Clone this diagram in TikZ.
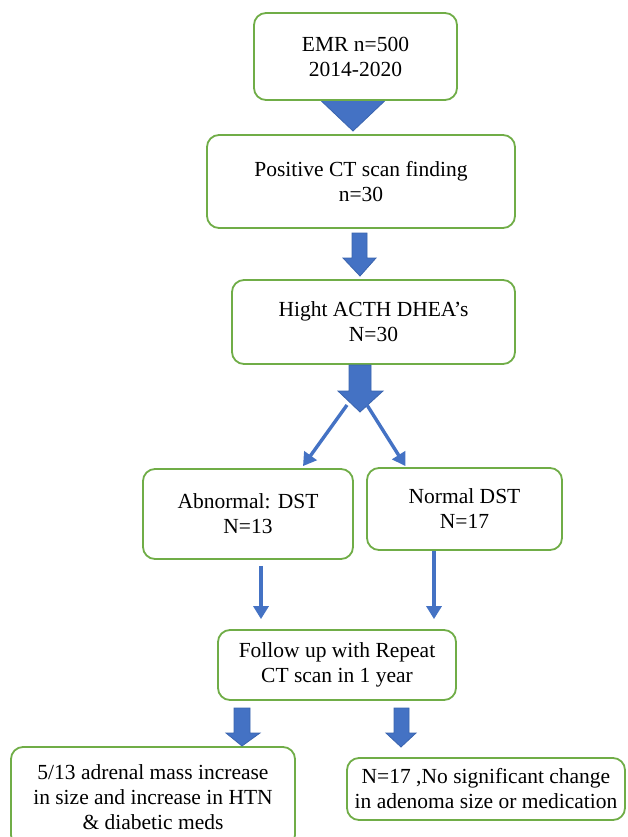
\documentclass[tikz,border=0pt]{standalone}
\usepackage{fontspec}
\setmainfont{Liberation Serif}
\usetikzlibrary{arrows.meta,calc}
\definecolor{boxgreen}{HTML}{70AD47}
\definecolor{arrowblue}{HTML}{4472C4}
\definecolor{arrowedge}{HTML}{3A64AE}
\begin{document}
\begin{tikzpicture}[x=1pt,y=-1pt,
  flowbox/.style={draw=boxgreen,line width=1.8pt,rounded corners=12pt,fill=white,
    align=center,inner sep=0pt,font=\fontsize{21.5}{25}\selectfont},
  blockarrow/.style={fill=arrowblue,draw=arrowedge,line width=0.8pt,line join=miter},
  thinarrow/.style={draw=arrowblue,line width=3.4pt,-{Triangle[length=13pt,width=15pt]}}]
\useasboundingbox (0,0) rectangle (627,837);
\clip (0,0) rectangle (627,837);
\fill[white] (0,0) rectangle (627,837);
% top triangle (behind first box)
\filldraw[blockarrow] (314,94) -- (392,94) -- (353,131) -- cycle;
\node[flowbox,minimum width=203pt,minimum height=87pt] (b1) at (355.5,56.5) {EMR n=500\\2014-2020};
\node[flowbox,minimum width=308pt,minimum height=93pt] (b2) at (361,181.5) {Positive CT scan finding\\n=30};
\node[flowbox,minimum width=283pt,minimum height=84pt] (b3) at (373.5,322) {Hight ACTH DHEA’s\\N=30};
\node[flowbox,minimum width=210pt,minimum height=90pt] (b4) at (248,514) {Abnormal: DST\\N=13};
\node[flowbox,minimum width=195pt,minimum height=82pt] (b5) at (464.5,509) {Normal DST\\N=17};
\node[flowbox,minimum width=238pt,minimum height=70pt] (b6) at (337,665) {Follow up with Repeat\\CT scan in 1 year};
\node[flowbox,minimum width=284pt,minimum height=100pt] (b7) at (153,797) {5/13 adrenal mass increase\\in size and increase in HTN\\\& diabetic meds};
\node[flowbox,minimum width=278pt,minimum height=62pt] (b8) at (486,789) {N=17 ,No significant change\\in adenoma size or medication};
% block arrows
\filldraw[blockarrow] (352,233) -- (367,233) -- (367,258) -- (376,258) -- (360,276) -- (343,258) -- (352,258) -- cycle;
\filldraw[blockarrow] (349,365) -- (371,365) -- (371,391) -- (383,391) -- (360,412) -- (338,391) -- (349,391) -- cycle;
\filldraw[blockarrow] (234,708) -- (250,708) -- (250,733) -- (260,733) -- (242,746) -- (226,733) -- (234,733) -- cycle;
\filldraw[blockarrow] (394,708) -- (409,708) -- (409,733) -- (416,733) -- (401,747) -- (386,733) -- (394,733) -- cycle;
% thin arrows
\coordinate (sL) at (347,405);
\coordinate (sR) at (367,405);
\draw[thinarrow] (sL) -- ($(b4.north)+(55,-2)$);
\draw[thinarrow] (sR) -- ($(b5.north)+(-59,-1)$);
\draw[thinarrow] ($(b4.south)+(13,6)$) -- ($(b6.north)+(-76,-10)$);
\draw[thinarrow] ($(b5.south)+(-30.5,0)$) -- ($(b6.north)+(97,-10)$);
\end{tikzpicture}
\end{document}
